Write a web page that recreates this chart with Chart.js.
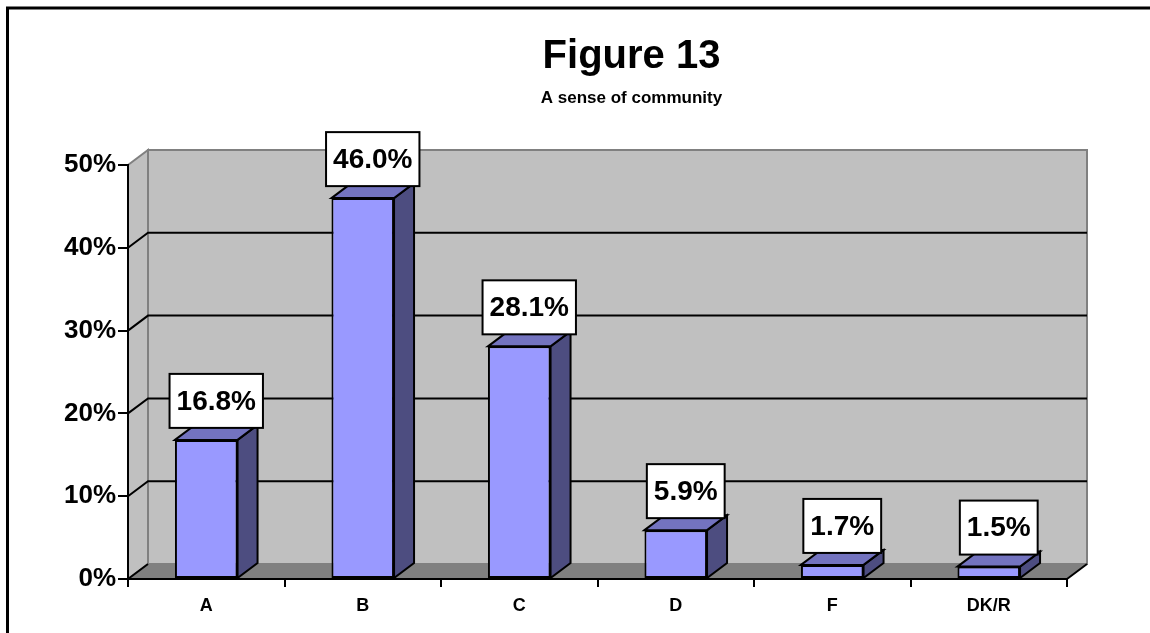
<!DOCTYPE html>
<html>
<head>
<meta charset="utf-8">
<title>Figure 13</title>
<script src="https://cdn.jsdelivr.net/npm/chart.js@4.4.1/dist/chart.umd.min.js"></script>
<style>
  html, body { margin: 0; padding: 0; background: #fff; }
  #wrap { width: 1150px; height: 633px; position: relative; }
</style>
</head>
<body>
<div id="wrap"><canvas id="grafico"></canvas></div>
<script>
// Datos de la figura
var categories = ['A', 'B', 'C', 'D', 'F', 'DK/R'];
var shares = [16.8, 46.0, 28.1, 5.9, 1.7, 1.5];
var yTicks = [0, 10, 20, 30, 40, 50];
var titulo = 'Figure 13';
var subtitulo = 'A sense of community';

// Profundidad del efecto 3D (desplazamiento hacia atrás)
var DX = 20, DY = -15;

var FRONT = '#9999ff', SIDE = '#4d4d80', TOP = '#7373bf';
var WALL = '#c0c0c0', FLOOR = '#808080', EDGE = '#808080';
var FUENTE = 'Arial, "Liberation Sans", sans-serif';

function poly(ctx, pts, fill, stroke, lw) {
  ctx.beginPath();
  ctx.moveTo(pts[0][0], pts[0][1]);
  for (var i = 1; i < pts.length; i++) ctx.lineTo(pts[i][0], pts[i][1]);
  ctx.closePath();
  if (fill) { ctx.fillStyle = fill; ctx.fill(); }
  if (stroke) { ctx.strokeStyle = stroke; ctx.lineWidth = lw || 2; ctx.stroke(); }
}

// Marco, títulos, paredes, suelo y líneas de división
var paredes = {
  id: 'paredes',
  beforeDraw: function(chart) {
    var ctx = chart.ctx, a = chart.chartArea, y = chart.scales.y;
    ctx.save();
    ctx.fillStyle = '#fff';
    ctx.fillRect(0, 0, chart.width, chart.height);
    ctx.strokeStyle = '#000';
    ctx.lineWidth = 3;
    ctx.strokeRect(7.5, 8, chart.width + 20, chart.height + 20);

    // títulos, algo a la derecha del centro del área del gráfico
    var tx = (a.left + a.right + DX) / 2 + 24;
    ctx.fillStyle = '#000';
    ctx.textAlign = 'center';
    ctx.textBaseline = 'alphabetic';
    ctx.font = 'bold 40px ' + FUENTE;
    ctx.fillText(titulo, tx, 68);
    ctx.font = 'bold 17px ' + FUENTE;
    ctx.fillText(subtitulo, tx, 103);

    var l = a.left, r = a.right, t = a.top, b = a.bottom;
    // pared del fondo
    poly(ctx, [[l + DX, t + DY], [r + DX, t + DY], [r + DX, b + DY], [l + DX, b + DY]], WALL, EDGE, 2);
    // pared lateral
    poly(ctx, [[l, t], [l + DX, t + DY], [l + DX, b + DY], [l, b]], WALL, EDGE, 2);
    // suelo
    poly(ctx, [[l, b], [l + DX, b + DY], [r + DX, b + DY], [r, b]], FLOOR, null);
    ctx.strokeStyle = '#000';
    ctx.lineWidth = 2;
    ctx.beginPath();
    ctx.moveTo(r, b); ctx.lineTo(r + DX, b + DY);
    ctx.moveTo(l, b); ctx.lineTo(l + DX, b + DY);
    ctx.stroke();

    // líneas de división en las paredes
    yTicks.forEach(function(v) {
      if (v === 0 || v === yTicks[yTicks.length - 1]) return;
      var py = y.getPixelForValue(v);
      ctx.strokeStyle = '#000';
      ctx.lineWidth = 2;
      ctx.beginPath();
      ctx.moveTo(l, py);
      ctx.lineTo(l + DX, py + DY);
      ctx.lineTo(r + DX, py + DY);
      ctx.stroke();
    });
    ctx.restore();
  }
};

// Caras lateral y superior de cada barra, y etiquetas de valor
var barras3d = {
  id: 'barras3d',
  afterDatasetsDraw: function(chart) {
    var ctx = chart.ctx;
    var meta = chart.getDatasetMeta(0);
    ctx.save();
    meta.data.forEach(function(bar) {
      var left = bar.x - bar.width / 2, right = bar.x + bar.width / 2;
      var top = bar.y, base = bar.base;
      poly(ctx, [[right, top], [right + DX, top + DY], [right + DX, base + DY], [right, base]], SIDE, '#000', 2);
      poly(ctx, [[left, top], [left + DX, top + DY], [right + DX, top + DY], [right, top]], TOP, '#000', 2);
    });

    ctx.font = 'bold 28px ' + FUENTE;
    ctx.textAlign = 'center';
    ctx.textBaseline = 'middle';
    meta.data.forEach(function(bar, i) {
      var txt = shares[i].toFixed(1) + '%';
      var w = ctx.measureText(txt).width + 14, h = 54;
      var cx = bar.x + DX / 2, cy = bar.y - 39;
      ctx.fillStyle = '#fff';
      ctx.fillRect(cx - w / 2, cy - h / 2, w, h);
      ctx.strokeStyle = '#000';
      ctx.lineWidth = 2;
      ctx.strokeRect(cx - w / 2, cy - h / 2, w, h);
      ctx.fillStyle = '#000';
      ctx.fillText(txt, cx, cy + 1);
    });
    ctx.restore();
  }
};

var ctx = document.getElementById('grafico').getContext('2d');

var grafico = new Chart(ctx, {
  type: 'bar',
  data: {
    labels: categories,
    datasets: [{
      label: subtitulo,
      data: shares,
      backgroundColor: FRONT,
      borderColor: '#000',
      borderWidth: 2,
      borderSkipped: false,
      categoryPercentage: 1,
      barPercentage: 0.4
    }]
  },
  options: {
    responsive: true,
    maintainAspectRatio: false,
    animation: false,
    layout: { padding: { top: 165, right: 83, bottom: 0, left: 0 } },
    plugins: {
      legend: { display: false },
      tooltip: { enabled: false },
      title: { display: false }
    },
    scales: {
      x: {
        grid: { display: true, drawOnChartArea: false, drawTicks: true, tickLength: 8, color: '#000', lineWidth: 2, offset: true },
        border: { display: true, color: '#000', width: 2 },
        ticks: {
          color: '#000',
          padding: 8,
          font: { family: FUENTE, size: 18, weight: 'bold' }
        },
        afterFit: function(s) { s.height = 54; }
      },
      y: {
        min: 0,
        max: 50,
        grid: { display: true, drawOnChartArea: false, drawTicks: true, tickLength: 10, color: '#000', lineWidth: 2 },
        border: { display: true, color: '#000', width: 2 },
        ticks: {
          stepSize: 10,
          color: '#000',
          padding: 2,
          font: { family: FUENTE, size: 26, weight: 'bold' },
          callback: function(v) { return v + '%'; }
        },
        afterFit: function(s) { s.width = 128; }
      }
    }
  },
  plugins: [paredes, barras3d]
});
</script>
</body>
</html>
